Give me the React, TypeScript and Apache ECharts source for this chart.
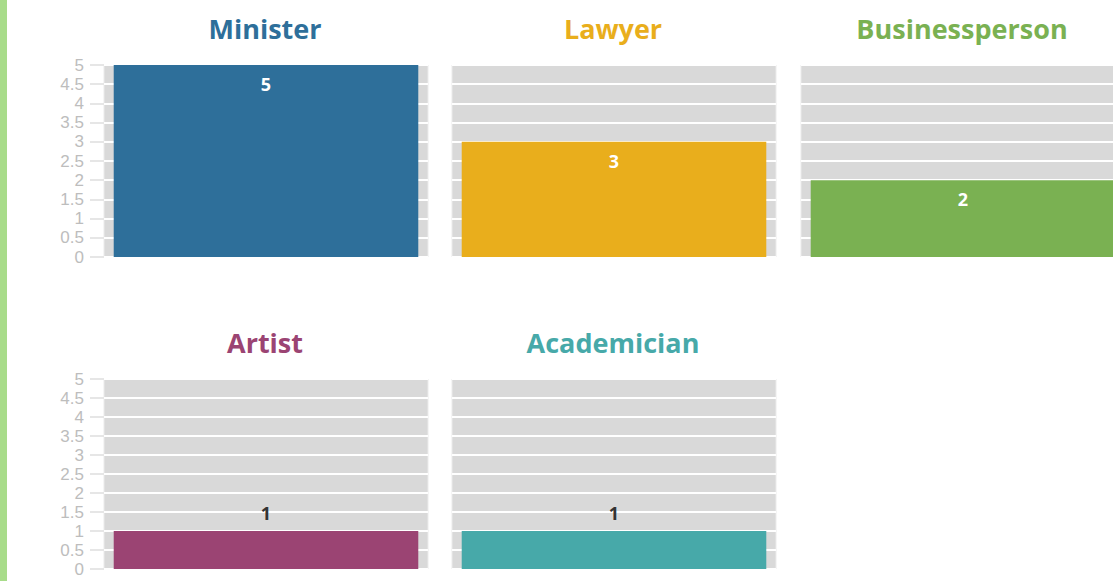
import React, { useEffect, useRef } from "react";
import * as echarts from "echarts";

const categories = ["Minister", "Lawyer", "Businessperson", "Artist", "Academician"];
const values = [5, 3, 2, 1, 1];
const colors = ["#2e6f9a", "#e9ae1c", "#7ab152", "#9b4473", "#47a9a9"];
const yTicks = { min: 0, max: 5, interval: 0.5 };

const PANEL_W = 324;
const CANVAS_W = 1140;
const lefts = [104, 452, 801, 104, 452];
const tops = [65, 65, 65, 379, 379];
const heights = [192, 192, 192, 190, 190];

export default function App() {
  const ref = useRef<HTMLDivElement>(null);
  useEffect(() => {
    document.body.style.margin = "0";
    const chart = echarts.init(ref.current!, null, { renderer: "svg" });
    const grids = categories.map((_, i) => ({
      left: lefts[i],
      top: tops[i],
      width: PANEL_W,
      height: heights[i],
      show: true,
      backgroundColor: "#d9d9d9",
      borderColor: "#ebebeb",
      borderWidth: 1,
      containLabel: false,
    }));
    const titles = categories.map((c, i) => ({
      type: "text",
      x: lefts[i] + PANEL_W / 2 - 1,
      y: tops[i] - 37,
      style: {
        text: c,
        align: "center",
        verticalAlign: "middle",
        fill: colors[i],
        fontSize: 27,
        fontWeight: "bold",
        fontFamily: "Open Sans",
      },
    }));
    const xAxes = categories.map((c, i) => ({
      type: "category",
      gridIndex: i,
      data: [c],
      show: false,
    }));
    const firstCol = [true, false, false, true, false];
    const yAxes = categories.map((_, i) => ({
      type: "value",
      gridIndex: i,
      min: yTicks.min,
      max: yTicks.max,
      interval: yTicks.interval,
      axisLine: { show: false },
      axisTick: {
        show: firstCol[i],
        length: 14,
        lineStyle: { color: "#e6e6e6", width: 2 },
      },
      axisLabel: {
        show: firstCol[i],
        margin: 20,
        color: "#bdbdbd",
        fontSize: 17,
        fontFamily: "Liberation Sans",
        lineHeight: 17,
      },
      splitLine: { show: true, lineStyle: { color: "#ffffff", width: 2 } },
    }));
    const series = categories.map((c, i) => {
      const small = values[i] <= 1;
      return {
        type: "bar",
        name: c,
        xAxisIndex: i,
        yAxisIndex: i,
        data: [values[i]],
        barWidth: "94%",
        itemStyle: { color: colors[i] },
        label: {
          show: true,
          position: small ? "top" : "insideTop",
          distance: small ? 9 : 10,
          color: small ? "#333333" : "#ffffff",
          fontWeight: "bold",
          fontSize: 18,
          fontFamily: "Open Sans",
        },
      };
    });
    chart.setOption({
      animation: false,
      backgroundColor: "#ffffff",
      grid: grids,
      xAxis: xAxes,
      yAxis: yAxes,
      series,
      graphic: [
        {
          type: "rect",
          shape: { x: 0, y: 0, width: 7, height: 581 },
          style: { fill: "#a8dc8a" },
        },
        ...titles,
      ],
    });
    return () => chart.dispose();
  }, []);
  return (
    <div style={{ width: 1113, height: 581, overflow: "hidden", position: "relative" }}>
      <div ref={ref} style={{ width: CANVAS_W, height: 581 }} />
    </div>
  );
}
